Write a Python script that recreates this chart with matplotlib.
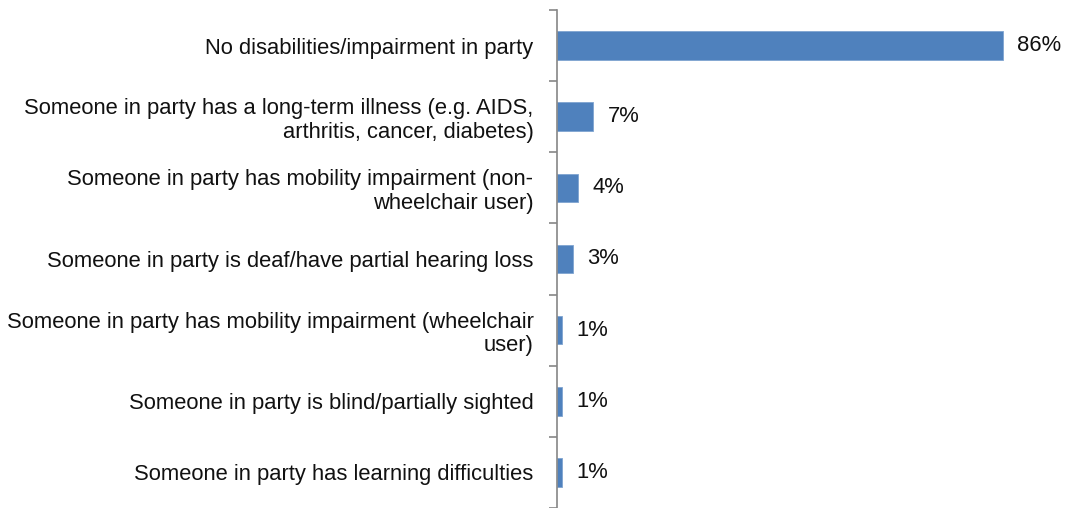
import matplotlib.pyplot as plt
import numpy as np

plt.rcParams['font.family'] = ['Liberation Sans', 'DejaVu Sans']

labels = ['No disabilities/impairment in party',
          'Someone in party has a long-term illness (e.g. AIDS,\narthritis, cancer, diabetes)',
          'Someone in party has mobility impairment (non-\nwheelchair user)',
          'Someone in party is deaf/have partial hearing loss',
          'Someone in party has mobility impairment (wheelchair\nuser)',
          'Someone in party is blind/partially sighted',
          'Someone in party has learning difficulties']
values = [86, 7, 4, 3, 1, 1, 1]

fig = plt.figure(figsize=(10.66, 5.08), dpi=100)
ax = fig.add_axes([557/1066, 0, 1 - 557/1066, 1 - 10/508])

y = np.arange(len(values))
ax.barh(y, values, height=0.4, color='#4F81BD', edgecolor='#7FA4D0', linewidth=0.6)
ax.set_xlim(0, 98.2)
ax.set_ylim(len(values) - 0.5, -0.5)

for yi, v in zip(y, values):
    ax.text(v + 2.8, yi, f'{v}%', va='center', ha='left', fontsize=15.8, color='#111111')

ax.set_yticks(y)
ax.set_yticklabels(labels, fontsize=15.8, color='#111111', linespacing=1.15)
ax.tick_params(axis='y', which='major', length=0, pad=17)
ax.set_yticks(np.arange(-0.5, len(values)), minor=True)
ax.tick_params(axis='y', which='minor', length=6, color='#868686', width=1.2)
ax.set_xticks([])
for s in ['top', 'right', 'bottom']:
    ax.spines[s].set_visible(False)
ax.spines['left'].set_color('#868686')
ax.spines['left'].set_linewidth(1.2)

fig.savefig('out.png', dpi=100)
